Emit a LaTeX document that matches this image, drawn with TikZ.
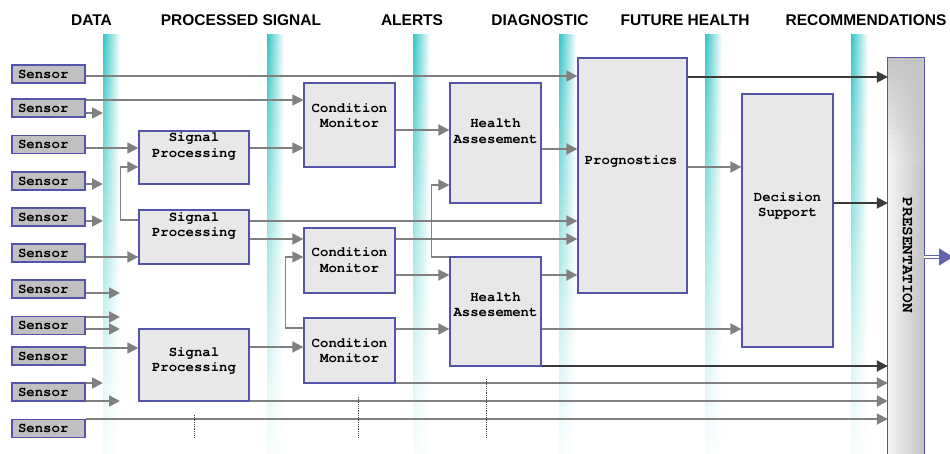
\documentclass[tikz,border=0pt]{standalone}
\usepackage{fontspec}
\usetikzlibrary{arrows.meta,calc}
\newfontfamily\headfont{Liberation Sans}
\newfontfamily\monofont{texgyrecursor}[Extension=.otf, UprightFont=*-regular, BoldFont=*-bold]

\definecolor{bandteal}{RGB}{62,200,200}
\definecolor{boxblue}{RGB}{84,84,170}
\definecolor{sensgray}{RGB}{192,192,192}
\definecolor{boxgray}{RGB}{232,232,232}
\definecolor{arrgray}{RGB}{128,128,128}
\definecolor{arrdark}{RGB}{58,58,58}
\definecolor{outblue}{RGB}{100,100,170}

\tikzset{
  boxfnt/.style={font=\monofont\bfseries\fontsize{14}{15.5}\selectfont},
  sensor/.style={draw=boxblue, fill=sensgray, line width=1.3pt, minimum height=18pt,
    text width=61pt, inner xsep=6pt, inner ysep=0pt, align=left, boxfnt},
  block/.style={draw=boxblue, fill=boxgray, line width=1.3pt, inner sep=0pt},
  blocktext/.style={boxfnt, align=center, inner sep=0pt},
  header/.style={font=\headfont\bfseries\fontsize{15.5}{18}\selectfont, anchor=base, inner sep=0pt},
  conn/.style={draw=arrgray, line width=1.8pt},
  arr/.style={conn, -{Triangle[length=11pt,width=11pt]}},
  darr/.style={arr, draw=arrdark},
  marker/.style={densely dotted, line width=0.8pt, draw=black!75},
}

\begin{document}
\begin{tikzpicture}[x=1pt,y=-1pt]
\useasboundingbox (0,0) rectangle (950,454);
\fill[white] (0,0) rectangle (950,454);

% stage bands: teal at the left edge, fading to white to the right and downwards
\foreach \bx in {103,267,413,559,705,851}{
  \foreach \i in {0,...,41}{
    \pgfmathtruncatemacro\k{100*(1-\i/42)^1.3+5}
    \shade[left color=bandteal!\k!white, right color=white]
      (\bx,35+\i*10) rectangle ++(17,10.6);
  }
}

% stage headings
\node[header] (hdata) at (91.5,25.5) {DATA};
\node[header] (hsig)  at (241,25.5) {PROCESSED SIGNAL};
\node[header] (halrt) at (412,25.5) {ALERTS};
\node[header] (hdiag) at (540,25.5) {DIAGNOSTIC};
\node[header] (hfut)  at (685,25.5) {FUTURE HEALTH};
\node[header] (hrec)  at (866,25.5) {RECOMMENDATIONS};

% sensors
\node[sensor] (s1)  at (48.5,74)    {Sensor};
\node[sensor] (s2)  at (48.5,108)   {Sensor};
\node[sensor] (s3)  at (48.5,144.5) {Sensor};
\node[sensor] (s4)  at (48.5,181)   {Sensor};
\node[sensor] (s5)  at (48.5,217)   {Sensor};
\node[sensor] (s6)  at (48.5,253)   {Sensor};
\node[sensor] (s7)  at (48.5,289)   {Sensor};
\node[sensor] (s8)  at (48.5,325.5) {Sensor};
\node[sensor] (s9)  at (48.5,356)   {Sensor};
\node[sensor] (s10) at (48.5,392)   {Sensor};
\node[sensor] (s11) at (48.5,428.5) {Sensor};

% processing blocks
\node[block, minimum width=110pt, minimum height=53pt]  (sp1)  at (194,157.5) {};
\node[block, minimum width=110pt, minimum height=54pt]  (sp2)  at (194,237)   {};
\node[block, minimum width=110pt, minimum height=72pt]  (sp3)  at (194,365)   {};
\node[block, minimum width=91pt,  minimum height=84pt]  (cm1)  at (349.5,125)  {};
\node[block, minimum width=91pt,  minimum height=65pt]  (cm2)  at (349.5,260.5) {};
\node[block, minimum width=91pt,  minimum height=65pt]  (cm3)  at (349.5,350.5) {};
\node[block, minimum width=91pt,  minimum height=120pt] (ha1)  at (495.5,143)  {};
\node[block, minimum width=91pt,  minimum height=109pt] (ha2)  at (495.5,311.5) {};
\node[block, minimum width=109pt, minimum height=235pt] (prog) at (632.5,175.5) {};
\node[block, minimum width=91pt,  minimum height=253pt] (ds)   at (787.5,220.5) {};

% presentation bar: flat grey at the top, turning into a cylinder shading below
\node[inner sep=0pt, minimum width=36pt, minimum height=402pt] (pres) at (906,259) {};
\foreach \i in {0,...,66}{
  \pgfmathsetmacro\t{min(1,6*\i/105)}
  \pgfmathtruncatemacro\cl{23*(1-\t)+4*\t}
  \pgfmathtruncatemacro\cm{23*(1-\t)+10*\t}
  \pgfmathtruncatemacro\cr{23*(1-\t)+24*\t}
  \shade[left color=black!\cl, middle color=black!\cm, right color=black!\cr]
    (888,58+6*\i) rectangle ++(36,6.6);
}
\draw[boxblue, line width=1.3pt] (pres.north west) rectangle (pres.south east);

% free ends of the short sensor arrows
\coordinate (e2)  at (103,113);
\coordinate (e4)  at (103,184);
\coordinate (e5)  at (103,221);
\coordinate (e7)  at (120,293);
\coordinate (e8a) at (120,317);
\coordinate (e8b) at (120,329);
\coordinate (e10a) at (103,383);
\coordinate (e10b) at (120,401);
\coordinate (outend) at (953,257);

% sensor connectors
\draw[arr] (s1.east |- 0,76)  -- (prog.west |- 0,76);
\draw[arr] (s2.east |- 0,100) -- (cm1.west |- 0,100);
\draw[arr] (s2.east |- 0,113) -- (e2);
\draw[arr] (s3.east |- 0,148) -- (sp1.west |- 0,148);
\draw[arr] (s4.east |- 0,184) -- (e4);
\draw[arr] (s5.east |- 0,221) -- (e5);
\draw[arr] (s6.east |- 0,257) -- (sp2.west |- 0,257);
\draw[arr] (s7.east |- 0,293) -- (e7);
\draw[arr] (s8.east |- 0,317) -- (e8a);
\draw[arr] (s8.east |- 0,329) -- (e8b);
\draw[arr] (s9.east |- 0,348) -- (sp3.west |- 0,348);
\draw[arr] (s10.east |- 0,383) -- (e10a);
\draw[arr] (s10.east |- 0,401) -- (e10b);
\draw[arr] (s11.east |- 0,419) -- (pres.west |- 0,419);

% signal processing outputs
\draw[arr, line width=1.6pt] (sp2.west |- 0,220) -- ++(-18,0) |- (sp1.west |- 0,167);
\draw[arr] (sp1.east |- 0,148) -- (cm1.west |- 0,148);
\draw[arr, line width=1.6pt] (sp2.east |- 0,221) -- (prog.west |- 0,221);
\draw[arr] (sp2.east |- 0,239) -- (cm2.west |- 0,239);
\draw[arr] (sp3.east |- 0,347) -- (cm3.west |- 0,347);
\draw[arr, line width=2.4pt] (sp3.east |- 0,401) -- (pres.west |- 0,401);

% condition monitor outputs
\draw[arr, line width=1.6pt] (cm3.west |- 0,328) -- ++(-18,0) |- (cm2.west |- 0,257);
\draw[arr] (cm1.east |- 0,130) -- (ha1.west |- 0,130);
\draw[arr] (cm2.east |- 0,239) -- (prog.west |- 0,239);
\draw[arr] (cm2.east |- 0,275) -- (ha2.west |- 0,275);
\draw[arr] (cm3.east |- 0,329) -- (ha2.west |- 0,329);
\draw[arr] (cm3.east |- 0,383) -- (pres.west |- 0,383);

% health assessment outputs
\draw[arr, line width=1.6pt] (ha2.west |- 0,257) -- ++(-18,0) |- (ha1.west |- 0,185);
\draw[arr] (ha1.east |- 0,149) -- (prog.west |- 0,149);
\draw[arr] (ha2.east |- 0,275) -- (prog.west |- 0,275);
\draw[arr] (ha2.east |- 0,329) -- (ds.west |- 0,329);
\draw[darr] (ha2.east |- 0,366) -- (pres.west |- 0,366);

% prognostics and decision support outputs
\draw[darr] (prog.east |- 0,77) -- (pres.west |- 0,77);
\draw[arr]  (prog.east |- 0,167) -- (ds.west |- 0,167);
\draw[darr] (ds.east |- 0,203) -- (pres.west |- 0,203);

% output of the presentation layer
\draw[draw=outblue, line width=1.5pt, double=white, double distance=1.8pt,
      -{Triangle[length=14pt,width=17pt]}] (pres.east |- 0,257) -- (outend);

% continuation marks
\draw[marker] (194,415) -- (194,437);
\draw[marker] (358,397) -- (358,438);
\draw[marker] (486,379) -- (486,438);

% redraw block borders over line ends
\foreach \b in {sp1,sp2,sp3,cm1,cm2,cm3,ha1,ha2,prog,ds}
  \draw[boxblue, line width=1.3pt] (\b.north west) rectangle (\b.south east);

% block texts
\node[blocktext] (sp1t)  at (194,146.5)  {Signal\\Processing};
\node[blocktext] (sp2t)  at (194,226)    {Signal\\Processing};
\node[blocktext] (sp3t)  at (194,361)    {Signal\\Processing};
\node[blocktext] (cm1t)  at (349.5,115.5) {Condition\\Monitor};
\node[blocktext] (cm2t)  at (349.5,260)  {Condition\\Monitor};
\node[blocktext] (cm3t)  at (349.5,350.5) {Condition\\Monitor};
\node[blocktext] (ha1t)  at (495.5,131)  {Health\\Assesement};
\node[blocktext] (ha2t)  at (495.5,304.5) {Health\\Assesement};
\node[blocktext] (progt) at (631,161)    {Prognostics};
\node[blocktext] (dst)   at (787.5,206)  {Decision\\Support};
\node[blocktext, font=\monofont\bfseries\fontsize{16}{18}\selectfont, rotate=-90]
  (prest) at (907.5,255.5) {PRESENTATION};
\end{tikzpicture}
\end{document}
